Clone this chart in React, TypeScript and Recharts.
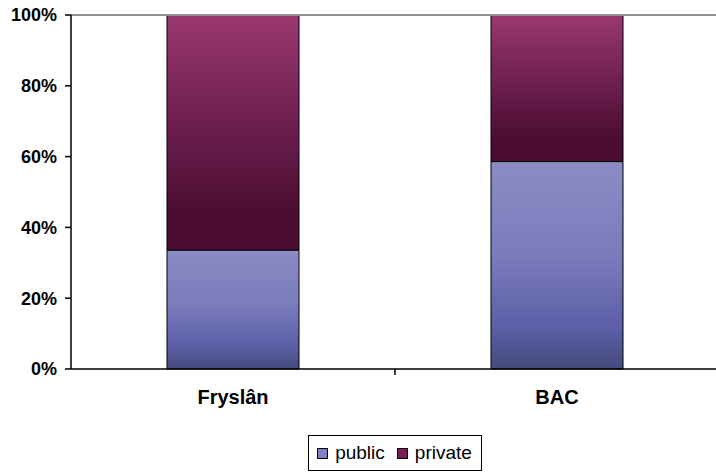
import React from "react";
import { BarChart, Bar, XAxis, YAxis, Legend, ReferenceLine } from "recharts";

const categories = ["Fryslân", "BAC"];
const publicShare = [33.6, 58.6];
const privateShare = [66.4, 41.4];
const yTicks = [0, 20, 40, 60, 80, 100];

const data = categories.map((name, i) => ({
  name,
  public: publicShare[i],
  private: privateShare[i],
}));

const FONT = "'Liberation Sans', Arial, sans-serif";

const XTick = (props: any) => {
  const { x, y, payload } = props;
  const off = payload && payload.offset ? payload.offset : 0;
  return (
    <g>
      <line x1={x + off} x2={x + off} y1={y - 8} y2={y - 2} stroke="#000" strokeWidth={1.5} />
      <text x={x} y={y + 27} textAnchor="middle" fontFamily={FONT} fontWeight="bold" fontSize={20} fill="#000">
        {payload.value}
      </text>
    </g>
  );
};

const LegendContent = () => (
  <div
    style={{
      display: "inline-flex",
      alignItems: "center",
      border: "1px solid #000",
      padding: "4px 9px 4px 8px",
      fontFamily: FONT,
      fontSize: 19,
      background: "#fff",
      lineHeight: "26px",
    }}
  >
    <span style={{ width: 9, height: 9, background: "#7f80c4", border: "1px solid #000", marginRight: 7, display: "inline-block" }} />
    <span style={{ marginRight: 12 }}>public</span>
    <span style={{ width: 9, height: 9, background: "#7a1f55", border: "1px solid #000", marginRight: 7, display: "inline-block" }} />
    <span>private</span>
  </div>
);

export default function App() {
  return (
    <div style={{ position: "absolute", left: 0, top: 0, background: "#fff" }}>
      <BarChart
        width={716}
        height={472}
        data={data}
        margin={{ top: 15, right: -3, bottom: 0, left: 0 }}
        barCategoryGap={0}
      >
        <defs>
          <linearGradient id="gPublic" x1="0" y1="0" x2="0" y2="1">
            <stop offset="0%" stopColor="#8b8cc4" />
            <stop offset="45%" stopColor="#7a7cbc" />
            <stop offset="80%" stopColor="#5c5fa6" />
            <stop offset="100%" stopColor="#454a7c" />
          </linearGradient>
          <linearGradient id="gPrivate" x1="0" y1="0" x2="0" y2="1">
            <stop offset="0%" stopColor="#9a386f" />
            <stop offset="45%" stopColor="#6e2050" />
            <stop offset="85%" stopColor="#4a0d31" />
            <stop offset="100%" stopColor="#4a0d31" />
          </linearGradient>
        </defs>
        <XAxis
          dataKey="name"
          height={67}
          axisLine={{ stroke: "#000", strokeWidth: 1.5 }}
          tickLine={false}
          tick={<XTick />}
          interval={0}
        />
        <YAxis
          width={71}
          domain={[0, 100]}
          ticks={yTicks}
          tickFormatter={(v: number) => `${v}%`}
          axisLine={{ stroke: "#000", strokeWidth: 1.5 }}
          tickLine={{ stroke: "#000", strokeWidth: 1.5 }}
          tickSize={6}
          tickMargin={8}
          tick={{ fontFamily: FONT, fontWeight: "bold", fontSize: 18, fill: "#000" }}
        />
        <ReferenceLine y={100} stroke="#8a9096" strokeWidth={2} />
        <Bar dataKey="public" stackId="a" barSize={132} fill="url(#gPublic)" stroke="#000" strokeWidth={1} isAnimationActive={false} />
        <Bar dataKey="private" stackId="a" barSize={132} fill="url(#gPrivate)" stroke="#000" strokeWidth={1} isAnimationActive={false} />
        <Legend
          verticalAlign="bottom"
          height={36}
          content={<LegendContent />}
          wrapperStyle={{ bottom: 1, left: 37, width: 716, textAlign: "center" }}
        />
      </BarChart>
    </div>
  );
}
